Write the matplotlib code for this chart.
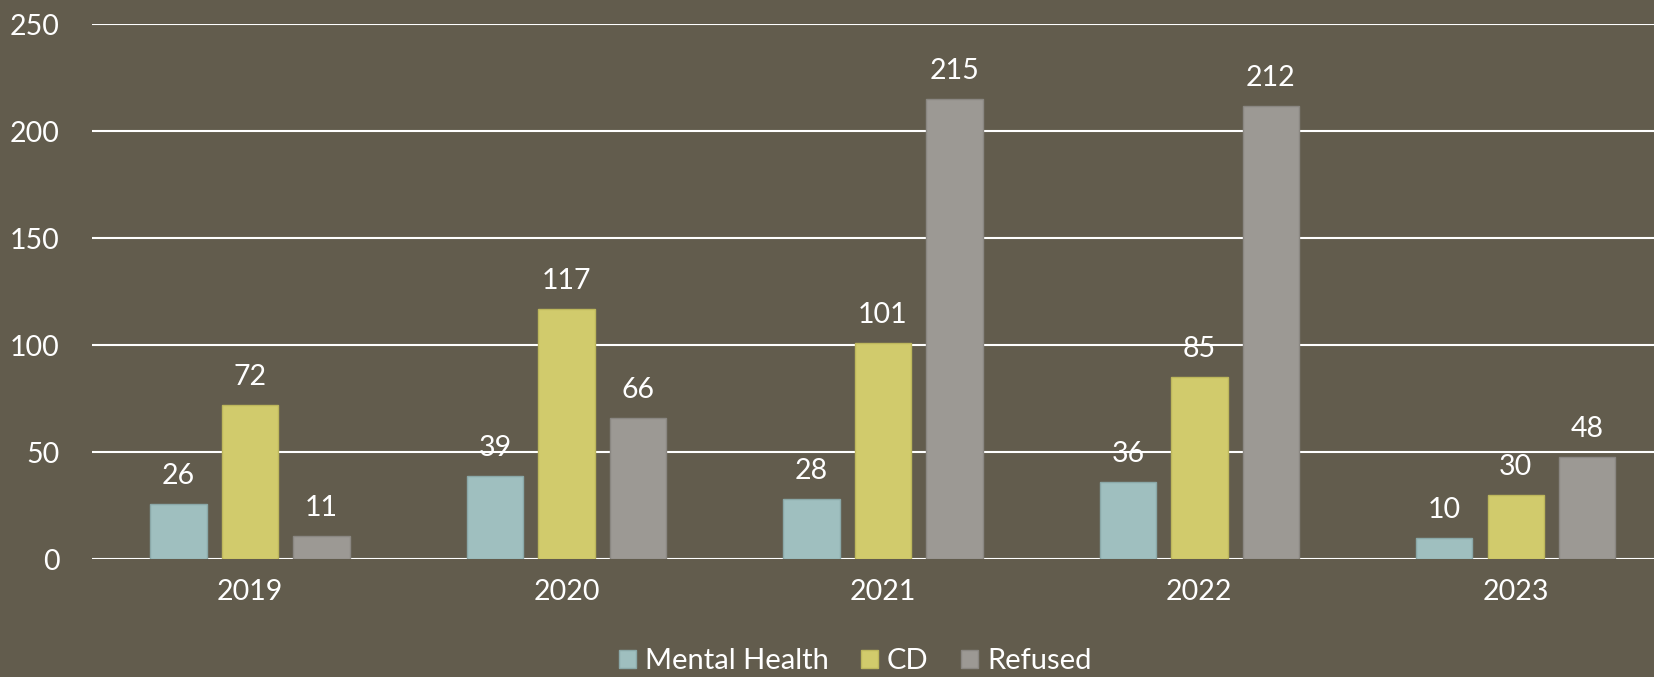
import numpy as np
import matplotlib.pyplot as plt

years = ['2019', '2020', '2021', '2022', '2023']
mental_health = [26, 39, 28, 36, 10]
cd = [72, 117, 101, 85, 30]
refused = [11, 66, 215, 212, 48]

series = ['Mental Health', 'CD', 'Refused']
colors = ['#9fbfbf', '#d1cb6c', '#9c9994']
edges = ['#8aa8a8', '#bdb75c', '#8a8782']

bg = '#625c4d'
plt.rcParams['font.family'] = ['Lato', 'DejaVu Sans']

fig = plt.figure(figsize=(16.54, 6.77), dpi=100, facecolor=bg)
ax = fig.add_axes([0.0555, 0.174, 0.9566, 0.79])
ax.set_facecolor(bg)

x = np.arange(len(years))
width = 0.178
step = 0.226
for i, (name, vals) in enumerate(zip(series, [mental_health, cd, refused])):
    bars = ax.bar(x + (i - 1) * step, vals, width, color=colors[i],
                  edgecolor=edges[i], linewidth=1, label=name, zorder=3)
    for b, v in zip(bars, vals):
        ax.text(b.get_x() + b.get_width() / 2, v + 7, str(v), ha='center',
                va='bottom', color='white', fontsize=20.5, zorder=4)

ax.set_xlim(-0.5, 4.5)
ax.set_ylim(0, 250)
ax.set_yticks(range(0, 251, 50))
ax.set_xticks(x)
ax.set_xticklabels(years)
ax.yaxis.grid(True, color='white', linewidth=1.5, zorder=0)
ax.set_axisbelow(True)
for s in ax.spines.values():
    s.set_visible(False)
ax.tick_params(axis='both', length=0, colors='white', labelsize=20.5)
ax.tick_params(axis='y', pad=23)
ax.tick_params(axis='x', pad=14)

leg = fig.legend(loc='lower center', bbox_to_anchor=(0.517, -0.035), ncol=3,
                 frameon=False, fontsize=21, handlelength=0.6, handleheight=0.6,
                 handletextpad=0.3, columnspacing=1.1)
for t in leg.get_texts():
    t.set_color('white')

fig.savefig('out.png', dpi=100, facecolor=bg)
